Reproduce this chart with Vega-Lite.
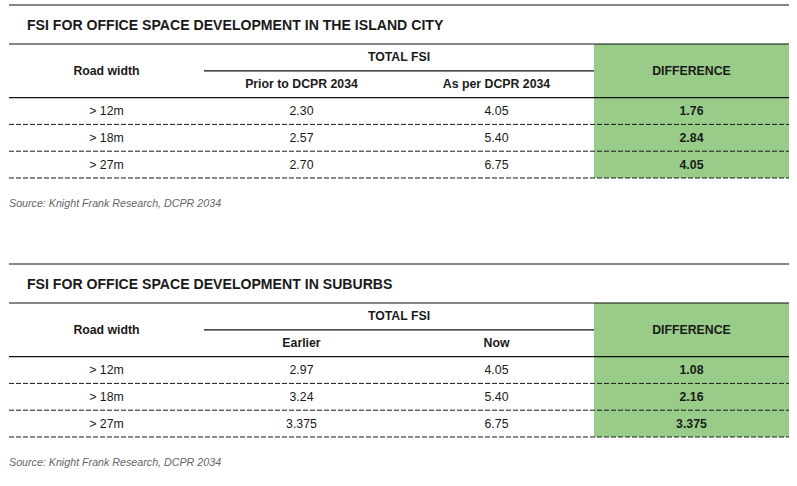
{
  "$schema": "https://vega.github.io/schema/vega-lite/v6.json",
  "background": "white",
  "padding": {"left": 8, "top": 0, "right": 9, "bottom": 0},
  "config": {"view": {"stroke": null}},
  "data": {"values": [
    {"table": "A", "part": "title", "c0": 0, "r0": -0.67, "text": "FSI FOR OFFICE SPACE DEVELOPMENT IN THE ISLAND CITY"},
    {"table": "A", "part": "source", "c0": 0, "r0": 5.97, "text": "Source: Knight Frank Research, DCPR 2034"},
    {"table": "A", "part": "rowspan", "c0": 0, "r0": 0, "text": "Road width"},
    {"table": "A", "part": "colspan", "c0": 1, "r0": 0, "text": "TOTAL FSI"},
    {"table": "A", "part": "sub", "c0": 1, "r0": 1, "text": "Prior to DCPR 2034"},
    {"table": "A", "part": "sub", "c0": 2, "r0": 1, "text": "As per DCPR 2034"},
    {"table": "A", "part": "rowspan", "c0": 3, "r0": 0, "text": "DIFFERENCE"},
    {"table": "A", "part": "label", "c0": 0, "r0": 2, "text": "> 12m"},
    {"table": "A", "part": "value", "c0": 1, "r0": 2, "text": "2.30"},
    {"table": "A", "part": "value", "c0": 2, "r0": 2, "text": "4.05"},
    {"table": "A", "part": "diff", "c0": 3, "r0": 2, "text": "1.76"},
    {"table": "A", "part": "label", "c0": 0, "r0": 3, "text": "> 18m"},
    {"table": "A", "part": "value", "c0": 1, "r0": 3, "text": "2.57"},
    {"table": "A", "part": "value", "c0": 2, "r0": 3, "text": "5.40"},
    {"table": "A", "part": "diff", "c0": 3, "r0": 3, "text": "2.84"},
    {"table": "A", "part": "label", "c0": 0, "r0": 4, "text": "> 27m"},
    {"table": "A", "part": "value", "c0": 1, "r0": 4, "text": "2.70"},
    {"table": "A", "part": "value", "c0": 2, "r0": 4, "text": "6.75"},
    {"table": "A", "part": "diff", "c0": 3, "r0": 4, "text": "4.05"},
    {"table": "A", "part": "band", "c0": 3, "c1": 4, "r0": 0, "r1": 5},
    {"table": "A", "part": "rule", "kind": "frame", "c0": 0, "c1": 4, "r0": -1.455},
    {"table": "A", "part": "rule", "kind": "frame", "c0": 0, "c1": 4, "r0": 0},
    {"table": "A", "part": "rule", "kind": "sub", "c0": 1, "c1": 3, "r0": 1},
    {"table": "A", "part": "rule", "kind": "frame", "c0": 0, "c1": 4, "r0": 2},
    {"table": "A", "part": "rule", "kind": "dash", "c0": 0, "c1": 4, "r0": 3},
    {"table": "A", "part": "rule", "kind": "dash", "c0": 0, "c1": 4, "r0": 4},
    {"table": "A", "part": "rule", "kind": "dash", "c0": 0, "c1": 4, "r0": 5},

    {"table": "B", "part": "title", "c0": 0, "r0": -0.67, "text": "FSI FOR OFFICE SPACE DEVELOPMENT IN SUBURBS"},
    {"table": "B", "part": "source", "c0": 0, "r0": 5.97, "text": "Source: Knight Frank Research, DCPR 2034"},
    {"table": "B", "part": "rowspan", "c0": 0, "r0": 0, "text": "Road width"},
    {"table": "B", "part": "colspan", "c0": 1, "r0": 0, "text": "TOTAL FSI"},
    {"table": "B", "part": "sub", "c0": 1, "r0": 1, "text": "Earlier"},
    {"table": "B", "part": "sub", "c0": 2, "r0": 1, "text": "Now"},
    {"table": "B", "part": "rowspan", "c0": 3, "r0": 0, "text": "DIFFERENCE"},
    {"table": "B", "part": "label", "c0": 0, "r0": 2, "text": "> 12m"},
    {"table": "B", "part": "value", "c0": 1, "r0": 2, "text": "2.97"},
    {"table": "B", "part": "value", "c0": 2, "r0": 2, "text": "4.05"},
    {"table": "B", "part": "diff", "c0": 3, "r0": 2, "text": "1.08"},
    {"table": "B", "part": "label", "c0": 0, "r0": 3, "text": "> 18m"},
    {"table": "B", "part": "value", "c0": 1, "r0": 3, "text": "3.24"},
    {"table": "B", "part": "value", "c0": 2, "r0": 3, "text": "5.40"},
    {"table": "B", "part": "diff", "c0": 3, "r0": 3, "text": "2.16"},
    {"table": "B", "part": "label", "c0": 0, "r0": 4, "text": "> 27m"},
    {"table": "B", "part": "value", "c0": 1, "r0": 4, "text": "3.375"},
    {"table": "B", "part": "value", "c0": 2, "r0": 4, "text": "6.75"},
    {"table": "B", "part": "diff", "c0": 3, "r0": 4, "text": "3.375"},
    {"table": "B", "part": "band", "c0": 3, "c1": 4, "r0": 0, "r1": 5},
    {"table": "B", "part": "rule", "kind": "frame", "c0": 0, "c1": 4, "r0": -1.455},
    {"table": "B", "part": "rule", "kind": "frame", "c0": 0, "c1": 4, "r0": 0},
    {"table": "B", "part": "rule", "kind": "sub", "c0": 1, "c1": 3, "r0": 1},
    {"table": "B", "part": "rule", "kind": "frame", "c0": 0, "c1": 4, "r0": 2},
    {"table": "B", "part": "rule", "kind": "dash", "c0": 0, "c1": 4, "r0": 3},
    {"table": "B", "part": "rule", "kind": "dash", "c0": 0, "c1": 4, "r0": 4},
    {"table": "B", "part": "rule", "kind": "dash", "c0": 0, "c1": 4, "r0": 5}
  ]},
  "facet": {"row": {"field": "table", "type": "nominal", "sort": ["A", "B"], "header": {"title": null, "labels": false, "labelPadding": 0, "titlePadding": 0}}},
  "spacing": {"row": 44},
  "spec": {
    "width": 780,
    "height": 215,
    "encoding": {
      "x": {"field": "c0", "type": "quantitative", "scale": {"domain": [0, 4], "nice": false, "zero": false}, "axis": null},
      "y": {"field": "r0", "type": "quantitative", "scale": {"domain": [-1.642, 6.381], "reverse": true, "nice": false, "zero": false}, "axis": null}
    },
    "layer": [
      {
        "transform": [{"filter": "datum.part === 'band'"}],
        "mark": {"type": "rect", "color": "#99CC88"},
        "encoding": {"x2": {"field": "c1"}, "y2": {"field": "r1"}}
      },
      {
        "transform": [{"filter": "datum.part === 'rule' && datum.kind !== 'dash'"}],
        "mark": {"type": "rule", "color": "#111111", "strokeWidth": 1.2},
        "encoding": {"x2": {"field": "c1"}}
      },
      {
        "transform": [{"filter": "datum.part === 'rule' && datum.kind === 'dash'"}],
        "mark": {"type": "rule", "color": "#1a1a1a", "strokeWidth": 1, "strokeDash": [5, 2]},
        "encoding": {"x2": {"field": "c1"}}
      },
      {
        "transform": [{"filter": "datum.part === 'sub' || datum.part === 'diff'"}],
        "mark": {"type": "text", "font": "Liberation Sans", "fontWeight": "bold", "fontSize": 12.3, "align": "center", "baseline": "middle", "dx": 97.5, "dy": 13.4, "color": "#1a1a1a"},
        "encoding": {"text": {"field": "text"}}
      },
      {
        "transform": [{"filter": "datum.part === 'rowspan'"}],
        "mark": {"type": "text", "font": "Liberation Sans", "fontWeight": "bold", "fontSize": 12.3, "align": "center", "baseline": "middle", "dx": 97.5, "dy": 26.8, "color": "#1a1a1a"},
        "encoding": {"text": {"field": "text"}}
      },
      {
        "transform": [{"filter": "datum.part === 'colspan'"}],
        "mark": {"type": "text", "font": "Liberation Sans", "fontWeight": "bold", "fontSize": 12.3, "align": "center", "baseline": "middle", "dx": 195, "dy": 13.4, "color": "#1a1a1a"},
        "encoding": {"text": {"field": "text"}}
      },
      {
        "transform": [{"filter": "datum.part === 'label' || datum.part === 'value'"}],
        "mark": {"type": "text", "font": "Liberation Sans", "fontSize": 12.3, "align": "center", "baseline": "middle", "dx": 97.5, "dy": 13.4, "color": "#1a1a1a"},
        "encoding": {"text": {"field": "text"}}
      },
      {
        "transform": [{"filter": "datum.part === 'title'"}],
        "mark": {"type": "text", "font": "Liberation Sans", "fontWeight": "bold", "fontSize": 14.1, "align": "left", "baseline": "middle", "dx": 18, "color": "#1a1a1a"},
        "encoding": {"text": {"field": "text"}}
      },
      {
        "transform": [{"filter": "datum.part === 'source'"}],
        "mark": {"type": "text", "font": "Liberation Sans", "fontStyle": "italic", "fontSize": 10.7, "align": "left", "baseline": "middle", "color": "#666666"},
        "encoding": {"text": {"field": "text"}}
      }
    ]
  }
}
